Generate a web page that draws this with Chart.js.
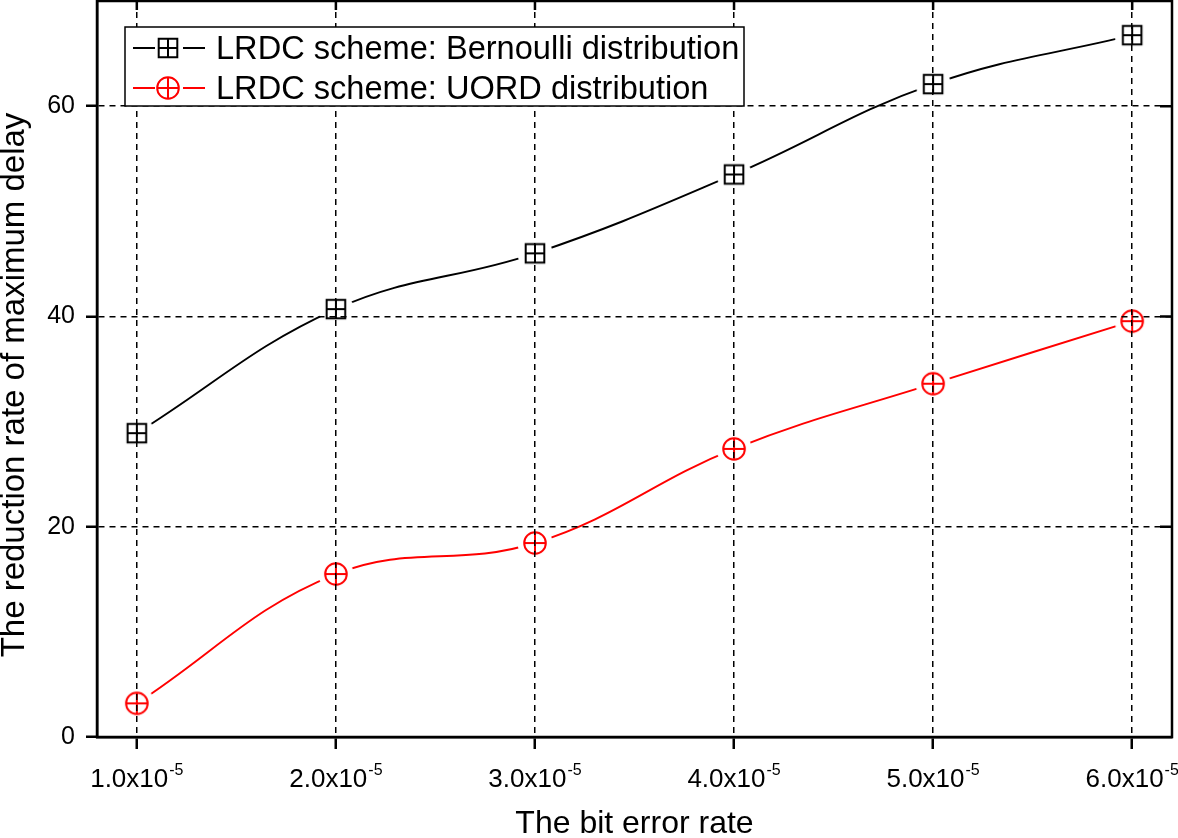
<!DOCTYPE html>
<html lang="en">
<head>
    <meta charset="UTF-8">
    <title>index</title>
    <script src="https://cdn.jsdelivr.net/npm/chart.js@4"></script>
    <style>
        body {
            margin: 0;
            background: #fff;
        }

        .chart-container {
            width: 1178px;
            height: 838px;
        }
    </style>
</head>
<body>

<div class="chart-container">
    <canvas id="canvas"></canvas>
</div>

<script>
    // bit error rate, in units of 10^-5
    var errorRates = [1.0, 2.0, 3.0, 4.0, 5.0, 6.0];
    var tickMantissas = ["1.0", "2.0", "3.0", "4.0", "5.0", "6.0"];
    var tickExponent = "-5";
    var yTicks = [0, 20, 40, 60];

    var bernoulli = [28.9, 40.7, 46.0, 53.5, 62.1, 66.75];
    var uord = [3.2, 15.5, 18.45, 27.4, 33.6, 39.55];

    var seriesNames = ["LRDC scheme: Bernoulli distribution", "LRDC scheme: UORD distribution"];
    var yTitle = "The reduction rate of maximum delay";

    var FONT = "'Liberation Sans', Arial, Helvetica, sans-serif";

    function drawSymbol(ctx, kind, x, y, color) {
        ctx.save();
        ctx.strokeStyle = color;
        ctx.lineWidth = 2;
        ctx.beginPath();
        if (kind === 'square') {
            var h = 9.3;
            ctx.rect(x - h, y - h, 2 * h, 2 * h);
            ctx.moveTo(x - h, y);
            ctx.lineTo(x + h, y);
            ctx.moveTo(x, y - h);
            ctx.lineTo(x, y + h);
        } else {
            var r = 10.8;
            ctx.arc(x, y, r, 0, Math.PI * 2);
            ctx.moveTo(x - r, y);
            ctx.lineTo(x + r, y);
            ctx.moveTo(x, y - r);
            ctx.lineTo(x, y + r);
        }
        ctx.stroke();
        ctx.restore();
    }

    // marker with a white halo, so the curve stops short of it
    function makePoint(kind, color) {
        var c = document.createElement('canvas');
        c.width = 40;
        c.height = 40;
        var ctx = c.getContext('2d');
        ctx.fillStyle = '#fff';
        ctx.beginPath();
        ctx.arc(20, 20, 17.5, 0, Math.PI * 2);
        ctx.fill();
        drawSymbol(ctx, kind, 20, 20, color);
        return c;
    }

    function toPoints(values) {
        return errorRates.map(function (x, i) {
            return {x: x, y: values[i]};
        });
    }

    function noPadding(scale) {
        scale.paddingTop = 0;
        scale.paddingBottom = 0;
        scale.paddingLeft = 0;
        scale.paddingRight = 0;
    }

    var extras = {
        id: 'extras',
        afterDraw: function (chart) {
            var ctx = chart.ctx;
            var a = chart.chartArea;
            var xs = chart.scales.x;
            var ys = chart.scales.y;

            ctx.save();
            // frame
            ctx.strokeStyle = '#000';
            ctx.lineWidth = 2.5;
            ctx.strokeRect(a.left, a.top, a.right - a.left, a.bottom - a.top);

            // inward ticks on top and right
            ctx.beginPath();
            errorRates.forEach(function (v) {
                var px = xs.getPixelForValue(v);
                ctx.moveTo(px, a.top);
                ctx.lineTo(px, a.top + 9);
            });
            yTicks.forEach(function (v) {
                if (v === 0) return;
                var py = ys.getPixelForValue(v);
                ctx.moveTo(a.right - 12, py);
                ctx.lineTo(a.right, py);
            });
            ctx.stroke();

            // y axis title, sits a little below the middle as in the original
            ctx.save();
            ctx.translate(24, 385);
            ctx.rotate(-Math.PI / 2);
            ctx.fillStyle = '#000';
            ctx.textAlign = 'center';
            ctx.textBaseline = 'alphabetic';
            ctx.font = '33px ' + FONT;
            ctx.fillText(yTitle, 0, 0);
            ctx.restore();

            // x tick labels with superscript exponent
            ctx.fillStyle = '#000';
            ctx.textBaseline = 'alphabetic';
            ctx.textAlign = 'left';
            errorRates.forEach(function (v, i) {
                var px = xs.getPixelForValue(v);
                var main = tickMantissas[i] + 'x10';
                ctx.font = '26px ' + FONT;
                var w1 = ctx.measureText(main).width;
                ctx.font = '16px ' + FONT;
                var w2 = ctx.measureText(tickExponent).width;
                var start = px - (w1 + w2 + 1) / 2;
                ctx.font = '26px ' + FONT;
                ctx.fillText(main, start, a.bottom + 50);
                ctx.font = '16px ' + FONT;
                ctx.fillText(tickExponent, start + w1 + 1, a.bottom + 38);
            });

            // legend box
            var box = {x: 125, y: 27, w: 619, h: 79};
            ctx.fillStyle = '#fff';
            ctx.fillRect(box.x, box.y, box.w, box.h);
            ctx.lineWidth = 1.5;
            ctx.strokeStyle = '#000';
            ctx.strokeRect(box.x, box.y, box.w, box.h);

            chart.data.datasets.forEach(function (ds, i) {
                var cy = box.y + 21 + i * 40;
                ctx.strokeStyle = ds.borderColor;
                ctx.lineWidth = 1.8;
                ctx.beginPath();
                ctx.moveTo(133, cy);
                ctx.lineTo(155, cy);
                ctx.moveTo(183, cy);
                ctx.lineTo(205, cy);
                ctx.stroke();
                drawSymbol(ctx, ds.symbol, 168, cy, ds.borderColor);
                ctx.fillStyle = '#000';
                ctx.font = '32.6px ' + FONT;
                ctx.fillText(ds.label, 216, cy + 11);
            });
            ctx.restore();
        }
    };

    window.onload = function () {
        var ctx = document.getElementById('canvas').getContext('2d');
        window.myLine = new Chart(ctx, {
            type: 'line',
            data: {
                datasets: [{
                    label: seriesNames[0],
                    symbol: 'square',
                    data: toPoints(bernoulli),
                    borderColor: '#000000',
                    borderWidth: 1.9,
                    tension: 0.4,
                    fill: false,
                    pointStyle: makePoint('square', '#000000'),
                    pointRadius: 10
                }, {
                    label: seriesNames[1],
                    symbol: 'circle',
                    data: toPoints(uord),
                    borderColor: '#ff0000',
                    borderWidth: 1.9,
                    tension: 0.4,
                    fill: false,
                    pointStyle: makePoint('circle', '#ff0000'),
                    pointRadius: 10
                }]
            },
            options: {
                responsive: true,
                maintainAspectRatio: false,
                animation: false,
                layout: {
                    autoPadding: false,
                    padding: {left: 0, right: 6, top: 1, bottom: 0}
                },
                plugins: {
                    legend: {display: false},
                    tooltip: {enabled: false}
                },
                scales: {
                    x: {
                        type: 'linear',
                        min: 0.8,
                        max: 6.2,
                        afterBuildTicks: function (scale) {
                            scale.ticks = errorRates.map(function (v) {
                                return {value: v};
                            });
                        },
                        afterFit: function (scale) {
                            scale.height = 101;
                            noPadding(scale);
                        },
                        ticks: {display: false},
                        grid: {
                            color: '#000',
                            lineWidth: 1.5,
                            tickColor: '#000',
                            tickWidth: 2.5,
                            tickLength: 12,
                            z: 1
                        },
                        border: {
                            display: true,
                            color: '#000',
                            width: 2.5,
                            dash: [6, 5],
                            z: 1
                        },
                        title: {
                            display: true,
                            text: 'The bit error rate',
                            color: '#000',
                            font: {family: FONT, size: 32, lineHeight: 0.8},
                            padding: {top: 0, bottom: 1}
                        }
                    },
                    y: {
                        min: 0,
                        max: 70,
                        afterBuildTicks: function (scale) {
                            scale.ticks = yTicks.map(function (v) {
                                return {value: v};
                            });
                        },
                        afterFit: function (scale) {
                            scale.width = 97;
                            noPadding(scale);
                        },
                        ticks: {
                            color: '#000',
                            padding: 11,
                            font: {family: FONT, size: 25}
                        },
                        grid: {
                            color: '#000',
                            lineWidth: 1.5,
                            tickColor: '#000',
                            tickWidth: 2.5,
                            tickLength: 11,
                            z: 1
                        },
                        border: {
                            display: true,
                            color: '#000',
                            width: 2.5,
                            dash: [6, 5],
                            z: 1
                        }
                    }
                }
            },
            plugins: [extras]
        });
    };
</script>
</body>
</html>
